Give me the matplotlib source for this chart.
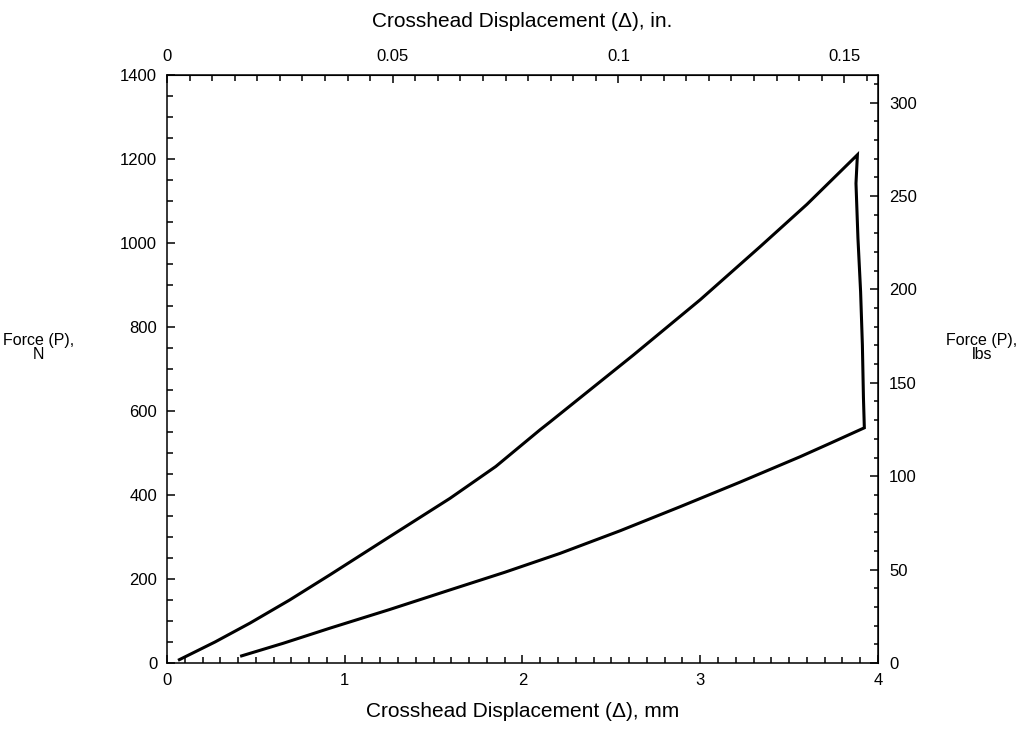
import matplotlib.pyplot as plt
from matplotlib.ticker import MultipleLocator

plt.rcParams["font.family"] = ["Liberation Sans", "DejaVu Sans"]
plt.rcParams["font.size"] = 12

# loading branch, drop and unloading branch (mm, N)
disp_mm = [0.07, 0.27, 0.467, 0.69, 0.917, 1.25, 1.592, 1.85, 2.098, 2.155, 2.623,
           3.0, 3.336, 3.6, 3.884,
           3.876, 3.887, 3.902, 3.912, 3.918, 3.923,
           3.730, 3.561, 3.22, 2.886, 2.55, 2.211, 1.9, 1.592, 1.25, 0.917, 0.654, 0.420]
force_n = [8, 50, 95, 150, 210, 300, 392, 468, 555, 574, 733,
           865, 991, 1092, 1210,
           1142, 1012, 884, 757, 631, 560,
           523, 491, 430, 372, 315, 261, 216, 174, 127, 83, 47, 17]

x_ticks_mm = [0, 1, 2, 3, 4]
y_ticks_n = [0, 200, 400, 600, 800, 1000, 1200, 1400]
top_ticks_in = [0, 0.05, 0.1, 0.15]
top_labels = ["0", "0.05", "0.1", "0.15"]
right_ticks_lbs = [0, 50, 100, 150, 200, 250, 300]

MM_PER_IN = 25.4
N_PER_LBF = 4.44822

fig = plt.figure(figsize=(10.18, 7.31), dpi=100)
ax = fig.add_axes([0.164, 0.093, 0.6985, 0.8044])

ax.plot(disp_mm, force_n, color="black", lw=2.2, solid_joinstyle="miter")

ax.set_xlim(0, 4)
ax.set_ylim(0, 1400)
ax.set_xticks(x_ticks_mm)
ax.set_yticks(y_ticks_n)
ax.xaxis.set_minor_locator(MultipleLocator(0.1))
ax.yaxis.set_minor_locator(MultipleLocator(50))
ax.tick_params(which="both", direction="in", width=1.1, top=False, right=False, pad=7)
ax.tick_params(which="major", length=6)
ax.tick_params(which="minor", length=4)
for s in ax.spines.values():
    s.set_linewidth(1.1)

ax.set_xlabel("Crosshead Displacement (Δ), mm", labelpad=10, fontsize=15)
ax.text(-0.181, 0.537, "Force (P),\nN", transform=ax.transAxes,
        ha="center", va="center", linespacing=0.95, fontsize=11.5)

top = ax.secondary_xaxis("top", functions=(lambda v: v / MM_PER_IN,
                                           lambda v: v * MM_PER_IN))
top.set_xticks(top_ticks_in)
top.set_xticklabels(top_labels)
top.xaxis.set_minor_locator(MultipleLocator(0.005))
top.tick_params(which="both", direction="in", width=1.1, pad=8)
top.tick_params(which="major", length=6)
top.tick_params(which="minor", length=4)
top.set_xlabel("Crosshead Displacement (Δ), in.", labelpad=16, fontsize=15)

right = ax.secondary_yaxis("right", functions=(lambda v: v / N_PER_LBF,
                                               lambda v: v * N_PER_LBF))
right.set_yticks(right_ticks_lbs)
right.yaxis.set_minor_locator(MultipleLocator(10))
right.tick_params(which="both", direction="in", width=1.1, pad=8)
right.tick_params(which="major", length=6)
right.tick_params(which="minor", length=3)
ax.text(1.146, 0.537, "Force (P),\nlbs", transform=ax.transAxes,
        ha="center", va="center", linespacing=0.95, fontsize=11.5)

fig.savefig("out.png", dpi=100)
